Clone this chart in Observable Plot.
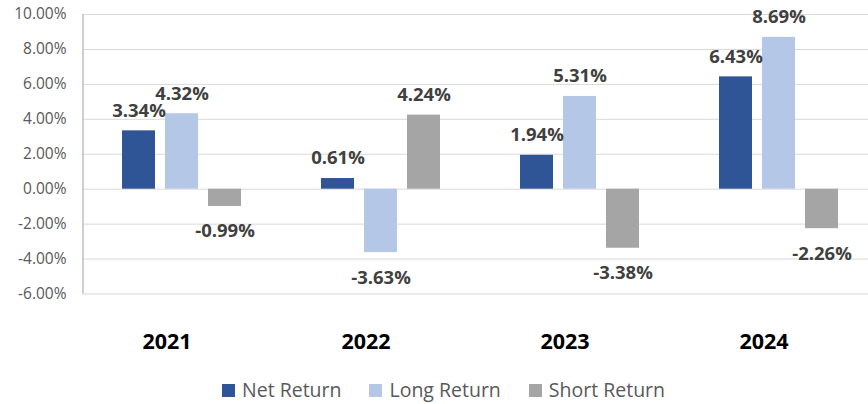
<!DOCTYPE html>
<html>
<head>
<meta charset="utf-8">
<script src="https://cdn.jsdelivr.net/npm/d3@7"></script>
<script src="https://cdn.jsdelivr.net/npm/@observablehq/plot@0.6"></script>
<style>
  html, body { margin: 0; padding: 0; background: #fff; }
  #wrap { position: relative; width: 868px; height: 404px; overflow: hidden; font-family: "Open Sans", sans-serif; }
  #legend { position: absolute; left: 222px; top: 378px; display: flex; align-items: center; gap: 28px; }
  .item { display: flex; align-items: center; gap: 7px; font-size: 19.5px; color: #595959; line-height: 24px; }
  .sw { width: 13px; height: 13px; display: inline-block; }
</style>
</head>
<body>
<div id="wrap"><div id="chart"></div><div id="legend"></div></div>
<script>
const years = ["2021", "2022", "2023", "2024"];
const series = ["Net Return", "Long Return", "Short Return"];
const netReturn = [3.34, 0.61, 1.94, 6.43];
const longReturn = [4.32, -3.63, 5.31, 8.69];
const shortReturn = [-0.99, 4.24, -3.38, -2.26];
const colors = ["#2F5597", "#B4C7E7", "#A5A5A5"];
const yTicks = [-6, -4, -2, 0, 2, 4, 6, 8, 10];

const valuesBySeries = [netReturn, longReturn, shortReturn];
const data = years.flatMap((year, i) =>
  series.map((s, j) => ({year, series: s, value: valuesBySeries[j][i]}))
);
const fmt = d => d.toFixed(2) + "%";

const chart = Plot.plot({
  width: 868,
  height: 372,
  marginLeft: 81,
  marginRight: -11,
  marginTop: 14,
  marginBottom: 78.5,
  style: {fontFamily: "Open Sans, sans-serif", background: "white"},
  fx: {domain: years, padding: 0, axis: null, label: null},
  x: {domain: series, paddingInner: 0.227, paddingOuter: 0.88, axis: null, label: null},
  y: {domain: [-6, 10], axis: null, label: null},
  color: {domain: series, range: colors},
  marks: [
    Plot.gridY(yTicks, {stroke: "#d9d9d9", strokeOpacity: 1, strokeWidth: 1}),
    Plot.axisY(yTicks, {
      anchor: "left", tickSize: 0, tickPadding: 16, tickFormat: fmt,
      fontSize: 15.5, fill: "#595959", label: null
    }),
    Plot.ruleX([{year: years[0], series: series[0]}], {
      fx: "year", x: "series", y1: yTicks[0], y2: yTicks[yTicks.length - 1],
      dx: -56, stroke: "#bfbfbf", strokeWidth: 1.5
    }),
    Plot.barY(data, {fx: "year", x: "series", y: "value", fill: "series"}),
    Plot.text(data, {
      filter: d => d.value >= 0, fx: "year", x: "series", y: "value",
      text: d => fmt(d.value), dy: -20, fontSize: 18.5, fontWeight: "bold", fill: "#404040"
    }),
    Plot.text(data, {
      filter: d => d.value < 0, fx: "year", x: "series", y: "value",
      text: d => fmt(d.value), dy: 25, fontSize: 18.5, fontWeight: "bold", fill: "#404040"
    }),
    Plot.axisFx({
      anchor: "bottom", tickSize: 0, tickPadding: 40, dx: -15,
      fontSize: 21.5, fontWeight: "bold", fill: "#000", label: null
    })
  ]
});
document.getElementById("chart").appendChild(chart);

const legend = document.getElementById("legend");
series.forEach((s, i) => {
  const item = document.createElement("div");
  item.className = "item";
  const sw = document.createElement("span");
  sw.className = "sw";
  sw.style.background = colors[i];
  const t = document.createElement("span");
  t.textContent = s;
  item.appendChild(sw);
  item.appendChild(t);
  legend.appendChild(item);
});
</script>
</body>
</html>
